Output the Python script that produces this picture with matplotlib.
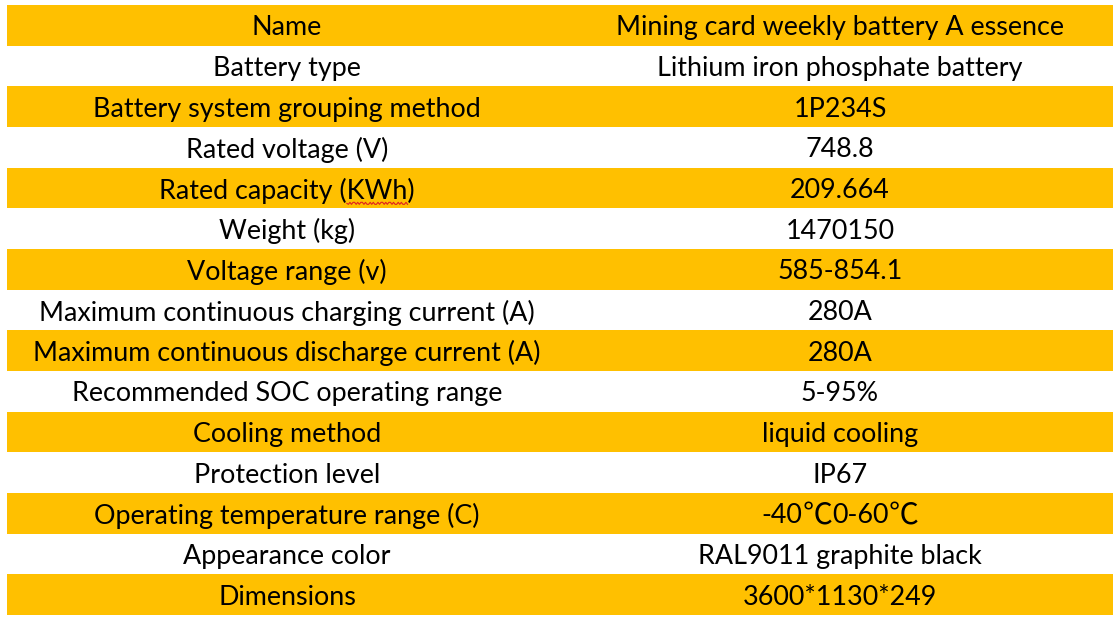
import matplotlib
matplotlib.use("Agg")
import numpy as np
import matplotlib.pyplot as plt
from matplotlib.patches import Rectangle

params = [
    "Name", "Battery type", "Battery system grouping method", "Rated voltage (V)",
    "Rated capacity (KWh)", "Weight (kg)", "Voltage range (v)",
    "Maximum continuous charging current (A)", "Maximum continuous discharge current (A)",
    "Recommended SOC operating range", "Cooling method", "Protection level",
    "Operating temperature range (C)", "Appearance color", "Dimensions",
]
values = [
    "Mining card weekly battery A essence", "Lithium iron phosphate battery", "1P234S",
    "748.8", "209.664", "1470150", "585-854.1", "280A", "280A", "5-95%",
    "liquid cooling", "IP67", "-40℃0-60℃", "RAL9011 graphite black", "3600*1130*249",
]

W, H = 1117, 621
fig = plt.figure(figsize=(W / 100, H / 100), dpi=100)
ax = fig.add_axes([0, 0, 1, 1])
ax.set_xlim(0, W)
ax.set_ylim(H, 0)
ax.axis("off")

left, right, top, bottom = 7, 1113, 5, 615
mid = 567
n = len(params)
rh = (bottom - top) / n
yellow = "#FFC000"
fam = ["Lato", "DejaVu Sans"]
degfam = ["Noto Sans CJK SC", "DejaVu Sans"]
fs = 19.4
degfs = 21.5
dy = 2.5

fig.canvas.draw()
renderer = fig.canvas.get_renderer()


def width_px(s, family, size, weight="normal"):
    t = ax.text(0, 0, s, fontsize=size, family=family, fontweight=weight)
    bb = t.get_window_extent(renderer)
    t.remove()
    return bb.width


def draw_runs(cx, cy, s):
    # split into runs so the ℃ sign uses a thin CJK face
    runs = []
    cur = ""
    for ch in s:
        if ch == "℃":
            if cur:
                runs.append((cur, fam, fs, "normal"))
                cur = ""
            runs.append((ch, degfam, degfs, "light"))
        else:
            cur += ch
    if cur:
        runs.append((cur, fam, fs, "normal"))
    widths = [width_px(r, f, sz, wt) for r, f, sz, wt in runs]
    x = cx - sum(widths) / 2
    for (r, f, sz, wt), w in zip(runs, widths):
        ax.text(x, cy, r, ha="left", va="center", fontsize=sz, family=f,
                color="black", fontweight=wt)
        x += w


for i, (p, v) in enumerate(zip(params, values)):
    y0 = top + i * rh
    if i % 2 == 0:
        ax.add_patch(Rectangle((left, y0), right - left, rh, facecolor=yellow, edgecolor="none"))
    yc = y0 + rh / 2 + dy
    ax.text((left + mid) / 2, yc, p, ha="center", va="center", fontsize=fs, family=fam, color="black")
    if "℃" in v:
        draw_runs((mid + right) / 2, yc, v)
    else:
        ax.text((mid + right) / 2, yc, v, ha="center", va="center", fontsize=fs, family=fam, color="black")
    if "KWh" in p:
        # spell-check squiggle under "KWh"
        full = width_px(p, fam, fs)
        pre = width_px(p[:p.index("KWh")], fam, fs)
        kw = width_px("KWh", fam, fs)
        x0 = (left + mid) / 2 - full / 2 + pre
        xs = np.linspace(x0, x0 + kw, 40)
        ys = y0 + rh - 5 + 1.0 * np.sign(np.sin((xs - x0) * np.pi / 2.0))
        ax.plot(xs, ys, color="#E02020", lw=0.8)

fig.savefig("out.png", dpi=100)
